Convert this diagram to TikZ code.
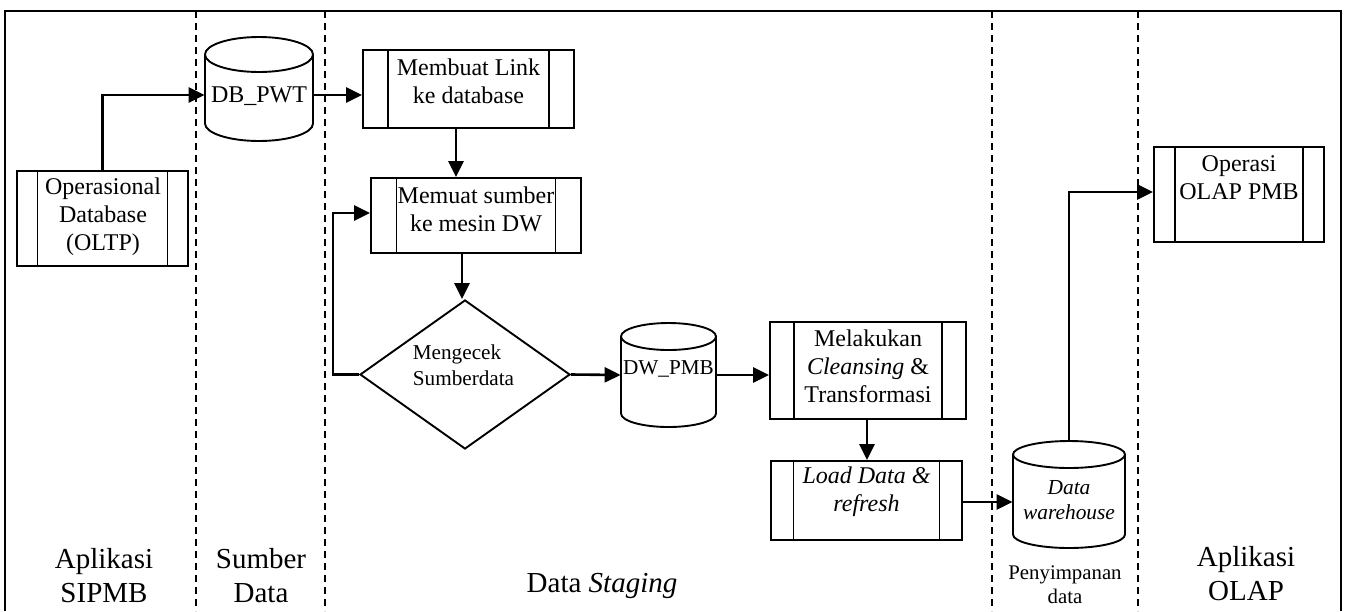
\documentclass[tikz,border=0pt]{standalone}
\usepackage{fontspec}
\setmainfont{Liberation Serif}
\usetikzlibrary{shapes.geometric,arrows.meta,calc}
\newcommand\cylnode[6]{%
  \pgfmathsetmacro\cylcx{(#2+#3)/2}%
  \pgfmathsetmacro\cylcy{(#4+#5)/2}%
  \pgfmathsetmacro\cylw{(#3-#2)*0.5}%
  \pgfmathsetmacro\cylh{(#5-#4)*0.5}%
  \pgfmathsetmacro\cylrx{(#3-#2)*0.25}%
  \pgfmathsetmacro\cylry{#6*0.5}%
  \node[inner sep=0pt,minimum width=\cylw pt,minimum height=\cylh pt] (#1) at (\cylcx,\cylcy) {};
  \draw[shapeline] (#2,#4+#6) -- (#2,#5-#6) arc[start angle=180,end angle=360,x radius=\cylrx pt,y radius=\cylry pt] -- (#3,#4+#6);
  \draw[shapeline] (\cylcx,#4+#6) ellipse[x radius=\cylrx pt,y radius=\cylry pt];
}
\tikzset{
  shapeline/.style={line width=0.95pt},
  frameline/.style={line width=1pt},
  lane/.style={line width=0.75pt,dash pattern=on 3.5pt off 2.5pt},
  procbox/.style={draw,rectangle,line width=0.95pt,inner sep=0pt,
    path picture={\draw[line width=0.95pt]
      ([xshift=#1]path picture bounding box.north west) -- ([xshift=#1]path picture bounding box.south west)
      ([xshift=-#1]path picture bounding box.north east) -- ([xshift=-#1]path picture bounding box.south east);}},
  conn/.style={line width=1.3pt,-{Triangle[length=8pt,width=7.5pt]}},
  txt/.style={inner sep=0pt,align=center,font=\fontsize{12}{14}\selectfont},
  smalltxt/.style={inner sep=0pt,align=center,font=\fontsize{10.7}{12.5}\selectfont},
  lanetxt/.style={inner sep=0pt,align=center,font=\fontsize{14.5}{17}\selectfont},
}
\begin{document}
\begin{tikzpicture}[x=0.5pt,y=-0.5pt]
\useasboundingbox (0,0) rectangle (1347,611);
% frame and lanes
\draw[frameline] (5,611) -- (5,11) -- (1341,11) -- (1341,611);
\foreach \lx in {196,325,992,1138} \draw[lane] (\lx,11) -- (\lx,611);
% boxes
\node[procbox=10.25pt,minimum width=85.5pt,minimum height=47.5pt] (oper) at (102.5,218.5) {};
\node[txt] (opertxt) at (103,217) {Operasional\\Database\\(OLTP)};
\cylnode{dbpwt}{205}{313}{37}{141}{17.5}
\node[txt] (dbpwttxt) at (259,96) {DB\_PWT};
\node[procbox=12.5pt,minimum width=105.5pt,minimum height=39pt] (membuat) at (468.5,89) {};
\node[txt] (membuattxt) at (468.5,81) {Membuat Link\\ke database};
\node[procbox=12.75pt,minimum width=105pt,minimum height=37.5pt] (memuat) at (476,215.5) {};
\node[txt] (memuattxt) at (476,209) {Memuat sumber\\ke mesin DW};
\node[diamond,draw,line width=0.95pt,inner sep=0pt,minimum width=105pt,minimum height=74.5pt] (dia) at (465,374.5) {};
\node[inner sep=0pt,align=left,font=\fontsize{10.6}{13}\selectfont] (diatxt) at (463.5,365) {Mengecek\\Sumberdata};
\cylnode{dwpmb}{621}{716}{323}{427}{13.5}
\node[inner sep=0pt,font=\fontsize{10.6}{12.5}\selectfont] (dwpmbtxt) at (668.5,369) {DW\_PMB};
\node[procbox=12pt,minimum width=98pt,minimum height=48.5pt] (melakukan) at (868,370.5) {};
\node[txt] (melakukantxt) at (868,366) {Melakukan\\\textit{Cleansing} \&\\Transformasi};
\node[procbox=11.25pt,minimum width=95.5pt,minimum height=39.5pt] (load) at (866.5,500.5) {};
\node[txt] (loadtxt) at (866.5,492) {\textit{Load Data \&}\\\textit{refresh}};
\cylnode{dwh}{1013}{1125}{441}{548}{13.5}
\node[smalltxt] (dwhtxt) at (1069,500) {\textit{Data}\\\textit{warehouse}};
\node[procbox=10.5pt,minimum width=85pt,minimum height=47.5pt] (olap) at (1239,194.5) {};
\node[txt] (olaptxt) at (1239,177.5) {Operasi\\OLAP PMB};
% lane labels
\node[lanetxt] (l1) at (104,576) {Aplikasi\\SIPMB};
\node[lanetxt] (l2) at (261,576) {Sumber\\Data};
\node[lanetxt] (l3) at (602,586) {Data \textit{Staging}};
\node[inner sep=0pt,align=center,font=\fontsize{10.4}{12}\selectfont] (l4) at (1065,585) {Penyimpanan\\data};
\node[lanetxt] (l5) at (1246,574) {Aplikasi\\OLAP};
% connectors
\draw[conn] (oper.north) |- ($(dbpwt.west)+(0,6)$);
\draw[conn] ($(dbpwt.east)+(0,6)$) -- ($(membuat.west)+(0,6)$);
\draw[conn] ($(membuat.south)+(-12.5,0)$) -- ($(memuat.north)+(-20,0)$);
\draw[conn] ($(memuat.south)+(-14,0)$) -- ($(dia.north)+(-3,0)$);
\draw[conn] (dia.west) -- ++(-26,0) |- ($(memuat.west)+(0,-2.5)$);
\draw[conn] (dia.east) -- (dwpmb.west);
\draw[conn] (dwpmb.east) -- (melakukan.west |- dwpmb.east);
\draw[conn] ($(melakukan.south)+(-1,0)$) -- ($(load.north)+(0.5,0)$);
\draw[conn] ($(load.east)+(0,1.5)$) -- ($(dwh.west)+(0,7.5)$);
\draw[conn] (dwh.north) |- ($(olap.west)+(0,-2.5)$);
\end{tikzpicture}
\end{document}
